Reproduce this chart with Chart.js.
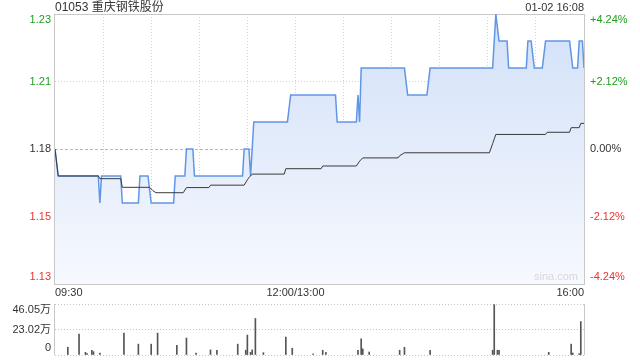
<!DOCTYPE html>
<html><head><meta charset="utf-8">
<script src="https://cdn.jsdelivr.net/npm/chart.js@4"></script>
<style>
html,body{margin:0;padding:0;background:#fff;width:640px;height:360px;overflow:hidden}
#p{position:absolute;left:0;top:0}
#v{position:absolute;left:0;top:300px}
</style></head><body>
<canvas id="p" width="640" height="300"></canvas>
<canvas id="v" width="640" height="60"></canvas>
<script>
// ---------- data ----------
const stockTitle = '01053 重庆钢铁股份';
const stampText = '01-02 16:08';
const watermark = 'sina.com';
const prevClose = 1.18;
const pctRange = 4.24;
const priceTickLabels = ['1.23', '1.21', '1.18', '1.15', '1.13'];
const pctTickLabels = ['+4.24%', '+2.12%', '0.00%', '-2.12%', '-4.24%'];
const timeTickLabels = ['09:30', '12:00/13:00', '16:00'];
const timeTickTimes = ['09:30', '12:00', '16:00'];

const priceTimes = ['09:30','09:32','09:57','09:58','09:59','10:11','10:12','10:22','10:23','10:28','10:30','10:44','10:45','10:51','10:52','10:56','10:57','11:27','11:28','11:31','11:32','11:34','11:55','11:57','13:25','13:26','13:38','13:39','13:40','13:41','14:08','14:10','14:22','14:24','15:03','15:05','15:07','15:12','15:13','15:24','15:25','15:27','15:29','15:34','15:36','15:51','15:53','15:56','15:57','15:59','16:00'];
const prices = [1.18,1.17,1.17,1.16,1.17,1.17,1.16,1.16,1.17,1.17,1.16,1.16,1.17,1.17,1.18,1.18,1.17,1.17,1.18,1.18,1.17,1.19,1.19,1.20,1.20,1.19,1.19,1.20,1.19,1.21,1.21,1.20,1.20,1.21,1.21,1.23,1.22,1.22,1.21,1.21,1.22,1.22,1.21,1.21,1.22,1.22,1.21,1.21,1.22,1.22,1.21];

const avgTimes = ['09:30','09:32','09:57','09:58','10:11','10:12','10:29','10:31','10:33','10:50','10:52','11:06','11:07','11:28','11:30','11:31','11:33','11:53','11:54','13:16','13:17','13:38','13:40','13:42','14:04','14:05','14:08','15:01','15:03','15:05','15:36','15:37','15:51','15:52','15:57','15:58','16:00'];
const avgPrices = [1.180,1.170,1.170,1.169,1.169,1.1658,1.1658,1.1646,1.1638,1.1638,1.1657,1.1657,1.1666,1.1666,1.1686,1.1694,1.1707,1.1707,1.1727,1.1727,1.1737,1.1737,1.1755,1.1767,1.1767,1.1775,1.1786,1.1786,1.1820,1.1854,1.1854,1.1862,1.1862,1.1879,1.1879,1.1895,1.1895];

const volTimes = ['09:38','09:45','09:49','09:50','09:53','09:54','09:58','10:13','10:22','10:30','10:34','10:46','10:52','10:58','11:07','11:11','11:24','11:29','11:30','11:32','11:33','11:35','11:40','11:54','11:58','13:11','13:17','13:19','13:39','13:41','13:42','13:46','14:05','14:08','14:24','15:03','15:04','15:06','15:07','15:38','15:52','15:53','15:57','15:58'];
const volumes = [7.0,18.9,2.4,1.2,4.3,3.0,1.8,19.8,9.8,9.8,19.8,8.8,15.3,1.8,4.6,4.3,9.8,4.3,18.0,2.4,4.6,33.0,2.1,16.2,6.1,1.0,4.3,2.4,4.3,14.6,5.5,2.7,4.3,7.0,4.3,4.3,45.5,4.3,4.3,2.4,9.8,1.8,1.2,30.2]; // 万
const volMax = 46.05;
const volTickValues = [46.05, 23.02, 0];
const volTickLabels = ['46.05万', '23.02万', '0'];

// ---------- helpers ----------
const GREEN = '#1d9e1d', RED = '#f03232', DARK = '#333';
const FONT = '"Liberation Sans", Arial, "Noto Sans CJK SC", sans-serif';
function toMinute(t) {
  const [h, m] = t.split(':').map(Number);
  const mins = h * 60 + m;
  return mins <= 720 ? mins - 570 : mins - 780 + 150;
}
const pctTicks = [pctRange, pctRange / 2, 0, -pctRange / 2, -pctRange];
const priceTickValues = pctTicks.map(p => prevClose * (1 + p / 100));
const clampY = (y, a) => Math.min(Math.max(y, a.top + 6), a.bottom - 7);

// ---------- price chart ----------
const priceFrame = {
  id: 'priceFrame',
  beforeDatasetsDraw(chart) {
    const c = chart.ctx, a = chart.chartArea;
    c.save();
    c.strokeStyle = '#c8c8c8'; c.lineWidth = 1;
    const x0 = Math.round(a.left) - 0.5, y0 = Math.round(a.top) + 0.5;
    const x1 = Math.round(a.right) + 0.5, y1 = Math.round(a.bottom) + 0.5;
    c.strokeRect(x0, y0, x1 - x0, y1 - y0);
    c.restore();
  },
  afterDraw(chart) {
    const c = chart.ctx, a = chart.chartArea, ys = chart.scales.y, xs = chart.scales.x;
    c.save();
    c.font = '11px ' + FONT;
    c.textBaseline = 'middle';
    pctTicks.forEach((p, i) => {
      const y = clampY(ys.getPixelForValue(priceTickValues[i]), a);
      c.fillStyle = p > 0 ? GREEN : p < 0 ? RED : DARK;
      c.textAlign = 'right'; c.fillText(priceTickLabels[i], a.left - 4, y);
      c.textAlign = 'left'; c.fillText(pctTickLabels[i], a.right + 6, y);
    });
    c.fillStyle = DARK;
    timeTickLabels.forEach((lab, i) => {
      const x = xs.getPixelForValue(toMinute(timeTickTimes[i]));
      c.textAlign = i === 0 ? 'left' : i === timeTickLabels.length - 1 ? 'right' : 'center';
      c.fillText(lab, x, a.bottom + 9);
    });
    c.font = '12px ' + FONT;
    c.textAlign = 'left';
    c.fillText(stockTitle, a.left, 8);
    c.font = '11px ' + FONT;
    c.textAlign = 'right';
    c.fillText(stampText, a.right, 8);
    c.fillStyle = '#d8d8d8';
    c.fillText(watermark, a.right - 6, a.bottom - 7);
    c.restore();
  }
};

new Chart(document.getElementById('p'), {
  type: 'line',
  data: {
    datasets: [
      {
        data: avgTimes.map((t, i) => ({ x: toMinute(t), y: avgPrices[i] })),
        borderColor: '#3a3a3a', borderWidth: 1, pointRadius: 0, fill: false, order: 0
      },
      {
        data: priceTimes.map((t, i) => ({ x: toMinute(t), y: prices[i] })),
        borderColor: '#6096e6', borderWidth: 1.5, pointRadius: 0, fill: 'start', order: 1,
        backgroundColor: (ctx) => {
          const a = ctx.chart.chartArea;
          if (!a) return 'rgba(210,225,248,0.8)';
          const g = ctx.chart.ctx.createLinearGradient(0, a.top, 0, a.bottom);
          g.addColorStop(0, '#d2e0f8');
          g.addColorStop(1, '#f6f9fe');
          return g;
        }
      }
    ]
  },
  options: {
    responsive: false, animation: false, devicePixelRatio: 1,
    layout: { padding: { top: 14, bottom: 16, left: 0, right: 0 } },
    plugins: { legend: { display: false }, tooltip: { enabled: false } },
    elements: { line: { tension: 0 } },
    scales: {
      x: {
        type: 'linear', min: 0, max: 330, offset: false,
        ticks: { display: false, stepSize: 30 },
        afterBuildTicks: (s) => { const t = []; for (let v = 0; v <= 330; v += 30) t.push({ value: v }); s.ticks = t; },
        grid: { drawTicks: false, color: (ctx) => (ctx.tick && (ctx.tick.value === 0 || ctx.tick.value === 330)) ? 'rgba(0,0,0,0)' : '#d2d2d2' },
        border: { display: false, dash: [1, 2] },
        afterFit: (s) => { s.height = 0; }
      },
      y: {
        position: 'left',
        min: prevClose * (1 - pctRange / 100), max: prevClose * (1 + pctRange / 100),
        ticks: { display: false },
        afterBuildTicks: (s) => { s.ticks = priceTickValues.map(v => ({ value: v })); },
        grid: {
          drawTicks: false,
          color: (ctx) => {
            if (!ctx.tick) return '#d2d2d2';
            const v = ctx.tick.value;
            if (Math.abs(v - priceTickValues[0]) < 1e-9 || Math.abs(v - priceTickValues[4]) < 1e-9) return 'rgba(0,0,0,0)';
            if (Math.abs(v - prevClose) < 1e-9) return '#b8b8b8';
            return '#d2d2d2';
          }
        },
        border: { display: false, dash: (ctx) => (ctx.tick && Math.abs(ctx.tick.value - prevClose) < 1e-9) ? [3, 2] : [1, 2] },
        afterFit: (s) => { s.width = 55; }
      },
      yPct: {
        position: 'right', min: -pctRange, max: pctRange,
        ticks: { display: false }, grid: { display: false }, border: { display: false },
        afterFit: (s) => { s.width = 56; }
      }
    }
  },
  plugins: [priceFrame]
});

// ---------- volume chart ----------
const volFrame = {
  id: 'volFrame',
  beforeDatasetsDraw(chart) {
    const c = chart.ctx, a = chart.chartArea;
    c.save();
    c.strokeStyle = '#c8c8c8'; c.lineWidth = 1;
    c.beginPath();
    c.moveTo(Math.round(a.left) - 0.5, a.top); c.lineTo(Math.round(a.left) - 0.5, a.bottom);
    c.moveTo(Math.round(a.right) + 0.5, a.top); c.lineTo(Math.round(a.right) + 0.5, a.bottom);
    c.stroke();
    c.restore();
  },
  afterDraw(chart) {
    const c = chart.ctx, a = chart.chartArea, ys = chart.scales.y;
    c.save();
    c.font = '11px ' + FONT;
    c.textBaseline = 'middle'; c.textAlign = 'right'; c.fillStyle = DARK;
    volTickValues.forEach((v, i) => {
      c.fillText(volTickLabels[i], a.left - 4, clampY(ys.getPixelForValue(v), a));
    });
    c.restore();
  }
};

new Chart(document.getElementById('v'), {
  type: 'bar',
  data: {
    datasets: [{
      data: volTimes.map((t, i) => ({ x: toMinute(t), y: volumes[i] })),
      backgroundColor: '#555', barThickness: 1, borderWidth: 0
    }]
  },
  options: {
    responsive: false, animation: false, devicePixelRatio: 1,
    layout: { padding: { top: 4, bottom: 5, left: 0, right: 56 } },
    plugins: { legend: { display: false }, tooltip: { enabled: false } },
    scales: {
      x: { type: 'linear', min: 0, max: 330, offset: false, display: false },
      y: {
        min: 0, max: volMax,
        ticks: { display: false },
        afterBuildTicks: (s) => { s.ticks = volTickValues.map(v => ({ value: v })); },
        grid: { drawTicks: false, color: '#c4c4c4' },
        border: { display: false, dash: [1, 2] },
        afterFit: (s) => { s.width = 55; }
      }
    }
  },
  plugins: [volFrame]
});
</script>
</body></html>
